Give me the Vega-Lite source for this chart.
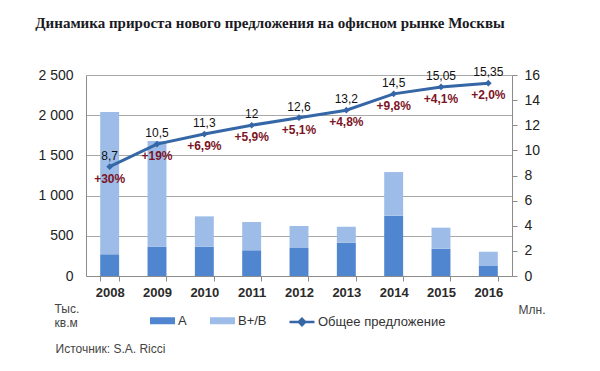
{
  "$schema": "https://vega.github.io/schema/vega-lite/v6.json",
  "autosize": {"type": "none"},
  "width": 426,
  "height": 201,
  "padding": {"left": 86, "top": 75, "right": 88, "bottom": 95},
  "background": "white",
  "config": {
    "view": {"stroke": null},
    "font": "Liberation Sans Narrow, Liberation Sans, Arial, sans-serif"
  },
  "title": {
    "text": "Динамика прироста нового предложения на офисном рынке Москвы",
    "font": "Liberation Serif",
    "fontSize": 15,
    "fontWeight": "bold",
    "color": "#1a1a24",
    "anchor": "middle",
    "dx": -29,
    "offset": 35
  },
  "datasets": {
    "bars": [
      {"year": "2008", "cls": "A", "v": 270},
      {"year": "2008", "cls": "B+/B", "v": 1770},
      {"year": "2009", "cls": "A", "v": 365},
      {"year": "2009", "cls": "B+/B", "v": 1315},
      {"year": "2010", "cls": "A", "v": 365},
      {"year": "2010", "cls": "B+/B", "v": 377},
      {"year": "2011", "cls": "A", "v": 320},
      {"year": "2011", "cls": "B+/B", "v": 352},
      {"year": "2012", "cls": "A", "v": 348},
      {"year": "2012", "cls": "B+/B", "v": 274},
      {"year": "2013", "cls": "A", "v": 414},
      {"year": "2013", "cls": "B+/B", "v": 199},
      {"year": "2014", "cls": "A", "v": 750},
      {"year": "2014", "cls": "B+/B", "v": 543},
      {"year": "2015", "cls": "A", "v": 340},
      {"year": "2015", "cls": "B+/B", "v": 261},
      {"year": "2016", "cls": "A", "v": 124},
      {"year": "2016", "cls": "B+/B", "v": 178}
    ],
    "total": [
      {"year": "2008", "total": 8.7, "lbl": "8,7", "pct": "+30%"},
      {"year": "2009", "total": 10.5, "lbl": "10,5", "pct": "+19%"},
      {"year": "2010", "total": 11.3, "lbl": "11,3", "pct": "+6,9%"},
      {"year": "2011", "total": 12, "lbl": "12", "pct": "+5,9%"},
      {"year": "2012", "total": 12.6, "lbl": "12,6", "pct": "+5,1%"},
      {"year": "2013", "total": 13.2, "lbl": "13,2", "pct": "+4,8%"},
      {"year": "2014", "total": 14.5, "lbl": "14,5", "pct": "+9,8%"},
      {"year": "2015", "total": 15.05, "lbl": "15,05", "pct": "+4,1%"},
      {"year": "2016", "total": 15.35, "lbl": "15,35", "pct": "+2,0%"}
    ]
  },
  "encoding": {
    "x": {
      "field": "year",
      "type": "nominal",
      "scale": {"paddingInner": 0.6, "paddingOuter": 0.3},
      "axis": {
        "labelAngle": 0,
        "labelFontSize": 13,
        "labelFontWeight": "bold",
        "labelColor": "#2a2a2a",
        "tickBand": "extent",
        "tickSize": 5,
        "tickColor": "#8c8c8c",
        "domainColor": "#8c8c8c",
        "labelPadding": 5,
        "title": "Источник:  S.A. Ricci",
        "titleFontSize": 12,
        "titleFontWeight": "normal",
        "titleColor": "#444444",
        "titleAlign": "left",
        "titleBaseline": "middle",
        "titleX": -31,
        "titleY": 72
      }
    }
  },
  "layer": [
    {
      "data": {"name": "bars"},
      "mark": {"type": "bar"},
      "encoding": {
        "y": {
          "field": "v",
          "type": "quantitative",
          "aggregate": "sum",
          "stack": "zero",
          "scale": {"domain": [0, 2500], "nice": false},
          "axis": {
            "values": [0, 500, 1000, 1500, 2000, 2500],
            "labelExpr": "replace(format(datum.value, ','), ',', ' ')",
            "labelFontSize": 14,
            "labelColor": "#222222",
            "ticks": false,
            "labelPadding": 13,
            "domainColor": "#8c8c8c",
            "grid": true,
            "gridColor": "#a8a8a8",
            "title": ["Тыс.", "кв.м"],
            "titleAngle": 0,
            "titleAlign": "left",
            "titleBaseline": "middle",
            "titleFontSize": 12,
            "titleFontWeight": "normal",
            "titleColor": "#444444",
            "titleLineHeight": 14,
            "titleX": -32,
            "titleY": 233
          }
        },
        "color": {
          "field": "cls",
          "type": "nominal",
          "scale": {
            "domain": ["A", "B+/B"],
            "range": ["#5086cf", "#9dbde8"]
          },
          "legend": {
            "orient": "none",
            "direction": "horizontal",
            "legendX": 64,
            "legendY": 233,
            "title": null,
            "symbolSize": 625,
            "symbolType": "M-1,-0.28H1V0.28H-1Z",
            "symbolStrokeWidth": 0,
            "labelFontSize": 13,
            "labelColor": "#333333",
            "labelOffset": 3,
            "columnPadding": 23
          }
        },
        "order": {"field": "cls", "sort": "ascending"}
      }
    },
    {
      "data": {"name": "total"},
      "encoding": {
        "y": {
          "field": "total",
          "type": "quantitative",
          "scale": {"domain": [0, 16], "nice": false},
          "axis": {
            "orient": "right",
            "values": [0, 2, 4, 6, 8, 10, 12, 14, 16],
            "labelFontSize": 14,
            "labelColor": "#222222",
            "tickSize": 5,
            "tickColor": "#8c8c8c",
            "domainColor": "#8c8c8c",
            "labelPadding": 7,
            "grid": false,
            "title": "Млн.",
            "titleAngle": 0,
            "titleAlign": "left",
            "titleBaseline": "middle",
            "titleFontSize": 12,
            "titleFontWeight": "normal",
            "titleColor": "#444444",
            "titleX": 6,
            "titleY": 234
          }
        }
      },
      "layer": [
        {
          "mark": {"type": "line", "strokeWidth": 3},
          "encoding": {
            "stroke": {
              "datum": "Общее предложение",
              "scale": {"domain": ["Общее предложение"], "range": ["#3566a6"]},
              "legend": {
                "orient": "none",
                "direction": "horizontal",
                "legendX": 202,
                "legendY": 233,
                "title": null,
                "symbolSize": 625,
                "symbolType": "M-1,0H1M-0.25,0L0,-0.25L0.25,0L0,0.25Z",
                "symbolStrokeWidth": 2.5,
                "symbolFillColor": "#3566a6",
                "labelFontSize": 13,
                "labelColor": "#333333",
                "labelOffset": 2
              }
            }
          }
        },
        {
          "mark": {"type": "point", "shape": "diamond", "filled": true, "size": 45, "opacity": 1, "color": "#3566a6"}
        },
        {
          "mark": {"type": "text", "dy": -11, "fontSize": 12, "color": "#111111"},
          "encoding": {"text": {"field": "lbl"}}
        },
        {
          "mark": {"type": "text", "dy": 12, "fontSize": 12, "fontWeight": "bold", "color": "#7c1426"},
          "encoding": {"text": {"field": "pct"}}
        }
      ]
    }
  ],
  "resolve": {"scale": {"y": "independent"}}
}
